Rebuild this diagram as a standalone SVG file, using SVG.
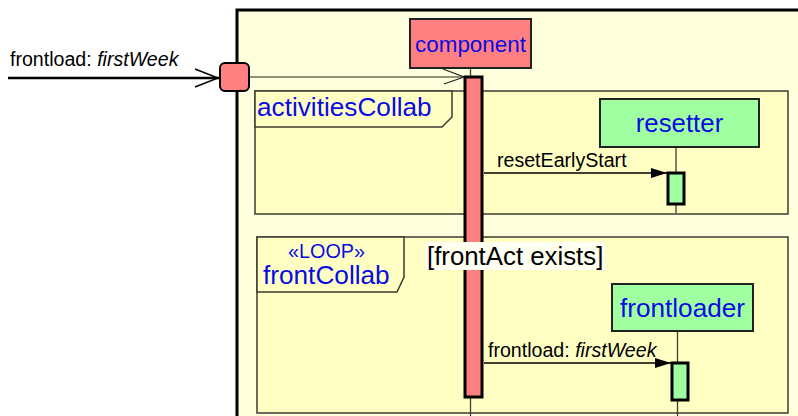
<svg xmlns="http://www.w3.org/2000/svg" width="798" height="416" viewBox="0 0 798 416">
<defs>
<marker id="fill" markerWidth="16" markerHeight="10" refX="16" refY="5" orient="auto" markerUnits="userSpaceOnUse">
<path d="M0,0 L16,5 L0,10 Z" fill="#000"/>
</marker>
<style>
.t{font-family:"Liberation Sans",Arial,sans-serif}
.lbl{font-size:19.6px;fill:#000}
.blue{fill:#0a0ae6}
.frag{fill:#ffffc4;stroke:#3c3c30;stroke-width:1.5}
.tab{fill:#ffffc4;stroke:#3c3c30;stroke-width:1.5}
.life{stroke:#3c3c30;stroke-width:1.3;fill:none}
.msg{stroke:#000;stroke-width:1.3;fill:none}
.red{fill:#ff8080}
.green{fill:#a0ffa0}
.box{stroke:#222;stroke-width:2}
.act{stroke:#000;stroke-width:3}
</style>
</defs>
<rect width="798" height="416" fill="#fff"/>
<g id="frame">
<rect x="237" y="10" width="600" height="450" fill="#ffffdd" stroke="#000" stroke-width="3"/>
</g>
<g id="activitiesCollab">
<rect class="frag" x="255" y="91" width="533" height="123"/>
<path class="tab" d="M255,91 L452,91 L452,117 L442,127 L255,127 Z"/>
<text class="t blue" x="257" y="116" font-size="26.2px">activitiesCollab</text>
</g>
<g id="frontCollab">
<rect class="frag" x="257" y="237" width="531" height="176"/>
<path class="tab" d="M257,237 L404,237 L404,277 L397,292 L257,292 Z"/>
<text class="t blue" x="326.5" y="258" font-size="19.8px" text-anchor="middle">«LOOP»</text>
<text class="t blue" x="263" y="284" font-size="26.2px">frontCollab</text>
</g>
<g id="connectors">
<line class="life" x1="470.5" y1="68" x2="470.5" y2="416"/>
<line class="life" x1="676" y1="147" x2="676" y2="213"/>
<line class="life" x1="677.5" y1="331" x2="677.5" y2="416"/>
<line x1="8" y1="78" x2="219" y2="78" stroke="#000" stroke-width="2.5"/>
<polyline points="195,69 218,78 195,87" fill="none" stroke="#000" stroke-width="1.5"/>
<line x1="249" y1="77" x2="463" y2="77" stroke="#6e6e5a" stroke-width="1.5"/>
<polyline points="443,69 464,77 444,84" fill="none" stroke="#222" stroke-width="1.2"/>
<line class="msg" x1="484" y1="173" x2="667" y2="173" marker-end="url(#fill)"/>
<line class="msg" x1="484" y1="363" x2="671" y2="363" marker-end="url(#fill)"/>
<text class="t lbl" x="10" y="66" font-size="19.9px">frontload: <tspan font-style="italic">firstWeek</tspan></text>
<text class="t lbl" x="497" y="167">resetEarlyStart</text>
<text class="t lbl" x="488" y="357" font-size="19.8px">frontload: <tspan font-style="italic">firstWeek</tspan></text>
</g>
<g id="port">
<rect class="red" x="220" y="63" width="29" height="28" rx="5" stroke="#000" stroke-width="2"/>
</g>
<g id="component">
<rect class="red box" x="410" y="19" width="121" height="49"/>
<text class="t blue" x="470.5" y="52" font-size="22.4px" text-anchor="middle">component</text>
<rect class="red act" x="465" y="77" width="17" height="320"/>
</g>
<g id="resetter">
<rect class="green box" x="600" y="99" width="159" height="48"/>
<text class="t blue" x="679.5" y="132" font-size="25.8px" text-anchor="middle">resetter</text>
<rect class="green act" x="668" y="173" width="16" height="31"/>
</g>
<g id="frontloader">
<rect class="green box" x="612" y="284" width="141" height="47"/>
<text class="t blue" x="682.5" y="317" font-size="26.2px" text-anchor="middle">frontloader</text>
<rect class="green act" x="672" y="363" width="16" height="37"/>
</g>
<g id="guard">
<rect x="425" y="242" width="180" height="28" fill="#fffff2"/>
<text class="t" x="427" y="265" font-size="25.8px" fill="#000">[frontAct exists]</text>
</g>
</svg>
